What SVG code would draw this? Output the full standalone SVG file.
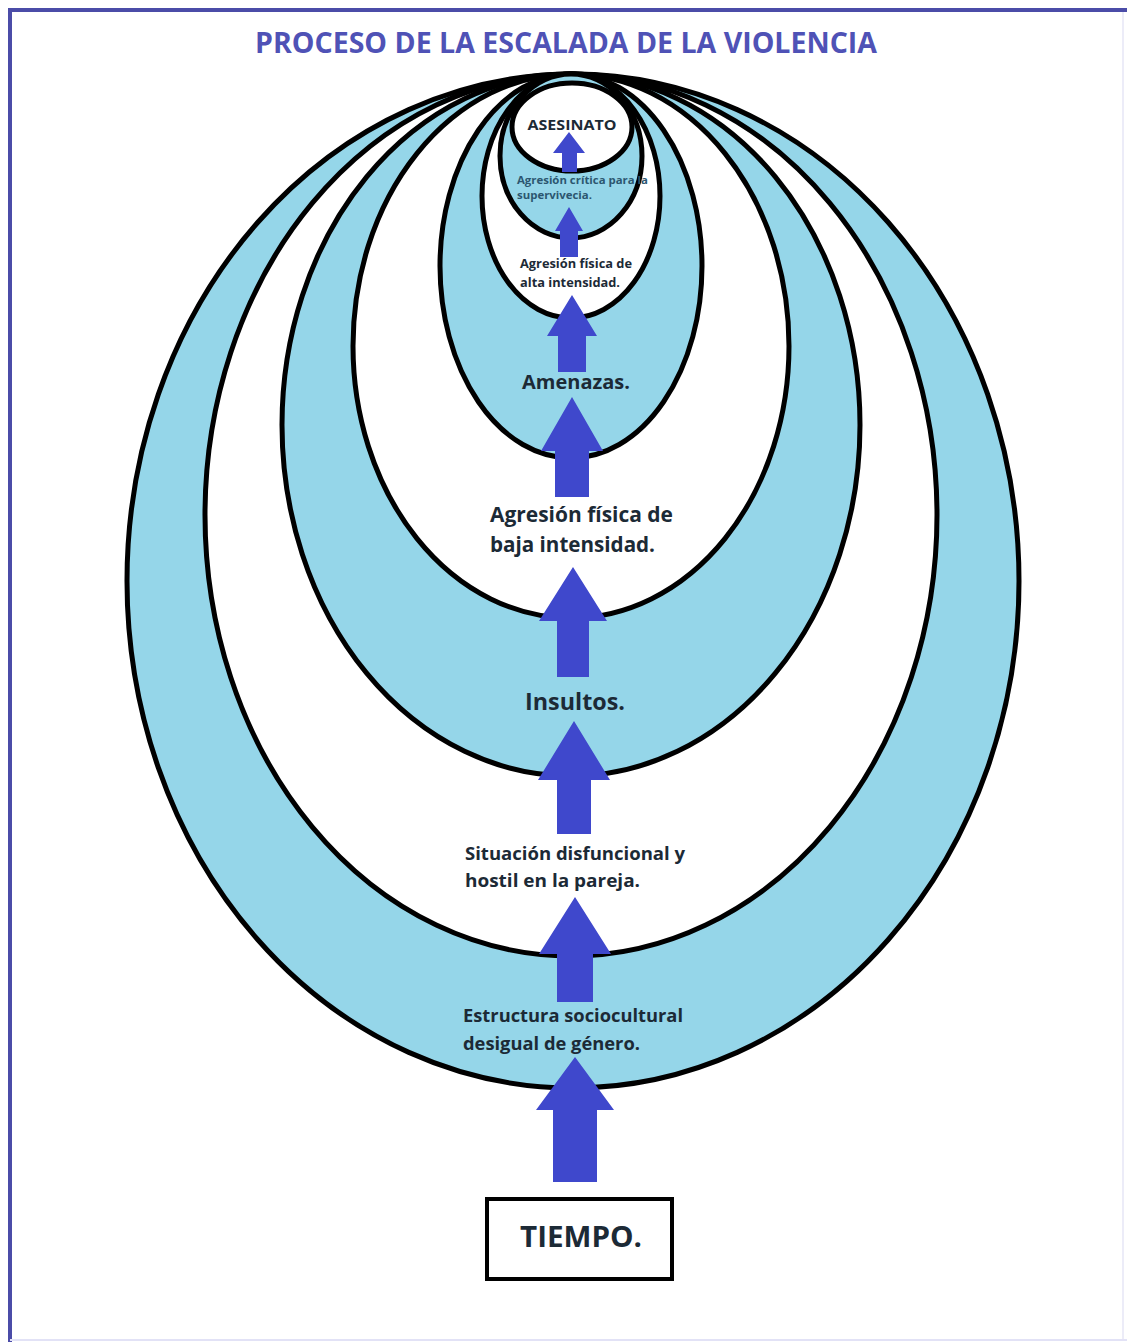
<svg xmlns="http://www.w3.org/2000/svg" width="1127" height="1342" viewBox="0 0 1127 1342">
<style>
.ring{stroke:#000;stroke-width:5}
.blue{fill:#95D6E9}
.white{fill:#fff}
.arrow{fill:#3F48CC}
.lbl{font-family:"Open Sans","Liberation Sans",sans-serif;font-weight:700;fill:#1c2a36}
.title{font-family:"Open Sans","Liberation Sans",sans-serif;font-weight:700;fill:#4F52B6;font-size:28px}
</style>
<rect x="0" y="0" width="1127" height="1342" fill="#fff"/>
<g id="frame">
<line x1="8" y1="10" x2="1127" y2="10" stroke="#4B4CA8" stroke-width="4"/>
<line x1="10" y1="8" x2="10" y2="1342" stroke="#4B4CA8" stroke-width="4"/>
<line x1="1123" y1="12" x2="1123" y2="1340" stroke="#ECECF8" stroke-width="2"/>
<line x1="10" y1="1340" x2="1127" y2="1340" stroke="#E2E2F6" stroke-width="2"/>
</g>
<text id="title" class="title" x="255" y="53" textLength="622" lengthAdjust="spacingAndGlyphs">PROCESO DE LA ESCALADA DE LA VIOLENCIA</text>
<g id="rings">
<ellipse id="ring1" class="ring blue" cx="573" cy="581" rx="446" ry="507"/>
<ellipse id="ring2" class="ring white" cx="571" cy="515" rx="366" ry="441"/>
<ellipse id="ring3" class="ring blue" cx="571" cy="425" rx="289" ry="351"/>
<ellipse id="ring4" class="ring white" cx="571" cy="346" rx="218" ry="272"/>
<ellipse id="ring5" class="ring blue" cx="571" cy="266" rx="131" ry="192"/>
<ellipse id="ring6" class="ring white" cx="571" cy="196" rx="89" ry="122"/>
<ellipse id="ring7" class="ring blue" cx="571" cy="156" rx="71" ry="82"/>
<ellipse id="ring8" class="ring white" cx="572" cy="127" rx="60" ry="44"/>
</g>
<g id="connectors">
<path class="arrow" d="M575 1057 L614 1110 L597 1110 L597 1182 L553 1182 L553 1110 L536 1110 Z"/>
<path class="arrow" d="M575 897 L611 954 L593 954 L593 1002 L557 1002 L557 954 L539 954 Z"/>
<path class="arrow" d="M574 721 L610 780 L591 780 L591 834 L557 834 L557 780 L538 780 Z"/>
<path class="arrow" d="M573 567 L607 621 L589 621 L589 677 L557 677 L557 621 L539 621 Z"/>
<path class="arrow" d="M572 397 L603 451 L589 451 L589 497 L555 497 L555 451 L541 451 Z"/>
<path class="arrow" d="M572 295 L597 336 L586 336 L586 372 L558 372 L558 336 L547 336 Z"/>
<path class="arrow" d="M569 207 L583 231 L578 231 L578 257 L560 257 L560 231 L555 231 Z"/>
<path class="arrow" d="M569 132 L585 153 L577 153 L577 172 L562 172 L562 153 L553 153 Z"/>
</g>
<g id="node-asesinato"><text class="lbl" x="572" y="130" font-size="14" text-anchor="middle" textLength="89" lengthAdjust="spacingAndGlyphs" fill="#2a2a2a">ASESINATO</text></g>
<g id="node-critica">
<text class="lbl" x="517" y="184" font-size="10.5" textLength="131" lengthAdjust="spacingAndGlyphs" style="fill:#2c5670">Agresión crítica para la</text>
<text class="lbl" x="517" y="199" font-size="10.5" textLength="75" lengthAdjust="spacingAndGlyphs" style="fill:#2c5670">supervivecia.</text>
</g>
<g id="node-alta">
<text class="lbl" x="520" y="268" font-size="12" textLength="112" lengthAdjust="spacingAndGlyphs">Agresión física de</text>
<text class="lbl" x="520" y="287" font-size="12" textLength="100" lengthAdjust="spacingAndGlyphs">alta intensidad.</text>
</g>
<g id="node-amenazas"><text class="lbl" x="522" y="389" font-size="19" textLength="108" lengthAdjust="spacingAndGlyphs">Amenazas.</text></g>
<g id="node-baja">
<text class="lbl" x="490" y="522" font-size="21" textLength="183" lengthAdjust="spacingAndGlyphs">Agresión física de</text>
<text class="lbl" x="490" y="552" font-size="21" textLength="165" lengthAdjust="spacingAndGlyphs">baja intensidad.</text>
</g>
<g id="node-insultos"><text class="lbl" x="525" y="710" font-size="23" textLength="100" lengthAdjust="spacingAndGlyphs">Insultos.</text></g>
<g id="node-situacion">
<text class="lbl" x="465" y="860" font-size="18" textLength="220" lengthAdjust="spacingAndGlyphs">Situación disfuncional y</text>
<text class="lbl" x="465" y="887" font-size="18" textLength="175" lengthAdjust="spacingAndGlyphs">hostil en la pareja.</text>
</g>
<g id="node-estructura">
<text class="lbl" x="463" y="1022" font-size="18" textLength="220" lengthAdjust="spacingAndGlyphs">Estructura sociocultural</text>
<text class="lbl" x="463" y="1050" font-size="18" textLength="177" lengthAdjust="spacingAndGlyphs">desigual de género.</text>
</g>
<g id="node-tiempo">
<rect x="487" y="1199" width="185" height="80" fill="#fff" stroke="#000" stroke-width="4"/>
<text class="lbl" x="520" y="1247" font-size="29" textLength="122" lengthAdjust="spacingAndGlyphs" fill="#1a1a1a">TIEMPO.</text>
</g>
</svg>
